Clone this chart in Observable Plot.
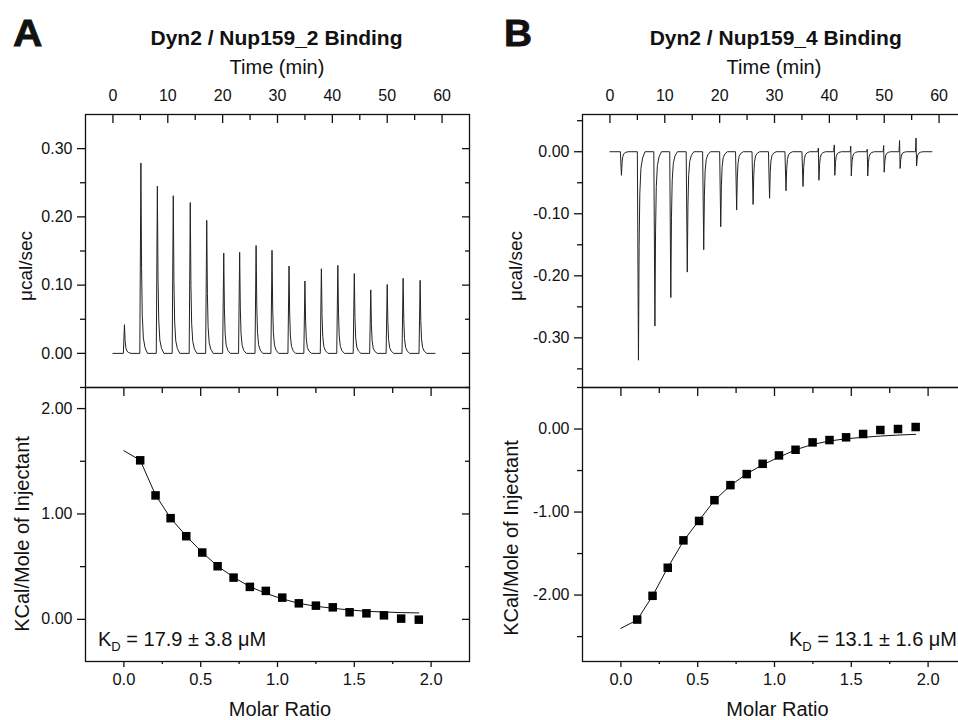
<!DOCTYPE html>
<html><head><meta charset="utf-8">
<script src="https://cdn.jsdelivr.net/npm/d3@7"></script>
<script src="https://cdn.jsdelivr.net/npm/@observablehq/plot@0.6"></script>
<style>
html,body{margin:0;padding:0;background:#fff;}
#fig{position:relative;width:958px;height:720px;overflow:hidden;background:#fff;font-family:"Liberation Sans",Arial,sans-serif;color:#111;}
#fig svg{position:absolute;overflow:visible;}
.t{position:absolute;white-space:nowrap;line-height:1;}
.letter{transform-origin:0 0;-webkit-text-stroke:0.8px #111;}
</style></head><body><div id="fig"></div>
<script>
// ---------- data ----------
const timeTicks = [0, 10, 20, 30, 40, 50, 60];
const timeMinor = [5, 15, 25, 35, 45, 55];
const molarTicks = [0, 0.5, 1, 1.5, 2];
const molarMinor = [0.25, 0.75, 1.25, 1.75];

const traceSpan = [0, 58.7];           // baseline start / end (min)
// peak shape: [time offset (min), fraction of peak]
const peakProfile = [[-0.2, 0], [0, 1], [0.12, 0.45], [0.25, 0.2], [0.45, 0.08], [0.75, 0.03], [1.2, 0]];

const injTimesA = [2.1, 5.1, 8.1, 11.0, 14.1, 17.1, 20.2, 23.1, 26.1, 29.0, 32.1, 35.0, 38.0, 41.0, 44.0, 47.0, 50.0, 52.9, 56.0];
const peakA = [0.042, 0.279, 0.245, 0.231, 0.221, 0.195, 0.147, 0.148, 0.158, 0.151, 0.128, 0.106, 0.124, 0.129, 0.117, 0.093, 0.101, 0.110, 0.107];

const injTimesB = [2.1, 5.2, 8.2, 11.1, 14.1, 17.1, 20.2, 23.1, 26.1, 29.1, 32.1, 35.2, 38.1, 41.0, 44.0, 47.0, 50.0, 52.9, 55.9];
const peakB = [-0.038, -0.336, -0.281, -0.235, -0.194, -0.158, -0.121, -0.094, -0.085, -0.075, -0.063, -0.056, -0.046, -0.038, -0.039, -0.039, -0.033, -0.027, -0.023];
const preSpikeB = [0, 0, 0, 0, 0, 0, 0, 0, 0, 0, 0, 0, 0.006, 0.011, 0.009, 0.004, 0.010, 0.018, 0.022];

const molarA = [0.106, 0.206, 0.304, 0.406, 0.510, 0.610, 0.714, 0.820, 0.924, 1.031, 1.139, 1.250, 1.360, 1.469, 1.579, 1.693, 1.805, 1.920];
const heatA = [1.509, 1.176, 0.960, 0.789, 0.634, 0.504, 0.396, 0.308, 0.270, 0.206, 0.152, 0.130, 0.114, 0.067, 0.057, 0.038, 0.007, -0.003];
const fitMolarA = [0.0, 0.106, 0.206, 0.304, 0.406, 0.510, 0.610, 0.714, 0.820, 0.924, 1.031, 1.139, 1.250, 1.360, 1.469, 1.579, 1.693, 1.805, 1.920];
const fitHeatA = [1.60, 1.51, 1.18, 0.96, 0.79, 0.635, 0.505, 0.40, 0.31, 0.247, 0.194, 0.152, 0.124, 0.105, 0.089, 0.076, 0.070, 0.064, 0.061];

const molarB = [0.106, 0.206, 0.305, 0.407, 0.509, 0.609, 0.713, 0.819, 0.923, 1.029, 1.137, 1.248, 1.358, 1.466, 1.577, 1.689, 1.804, 1.919];
const heatB = [-2.295, -2.009, -1.671, -1.341, -1.107, -0.857, -0.676, -0.543, -0.419, -0.318, -0.250, -0.161, -0.133, -0.100, -0.060, -0.012, 0.000, 0.024];
const fitMolarB = [0.0, 0.106, 0.206, 0.305, 0.407, 0.509, 0.609, 0.713, 0.819, 0.923, 1.029, 1.137, 1.248, 1.358, 1.466, 1.577, 1.689, 1.804, 1.919];
const fitHeatB = [-2.40, -2.30, -2.01, -1.67, -1.35, -1.10, -0.86, -0.68, -0.54, -0.43, -0.34, -0.25, -0.185, -0.145, -0.117, -0.10, -0.085, -0.073, -0.064];

// ---------- helpers ----------
const fig = document.getElementById("fig");
const FONT = '"Liberation Sans", Arial, sans-serif';
const f2 = d => d.toFixed(2);
const f1 = d => d.toFixed(1);

function buildTrace(times, heights, pre) {
  const pts = [{t: traceSpan[0], v: 0}];
  times.forEach((t, i) => {
    if (pre && pre[i]) { pts.push({t: t - 0.3, v: 0}); pts.push({t: t - 0.1, v: pre[i]}); }
    for (const [dt, f] of peakProfile) pts.push({t: t + dt, v: f * heights[i]});
  });
  pts.push({t: traceSpan[1], v: 0});
  return pts.sort((a, b) => a.t - b.t);
}
const zip = (xs, ys) => xs.map((x, i) => ({x, y: ys[i]}));

function topPanel({yDomain, yMajor, yMinor, trace, left}) {
  const p = Plot.plot({
    width: 479, height: 318,
    marginLeft: 85, marginRight: 10, marginTop: 44, marginBottom: 1,
    x: {domain: [-5, 65]},
    y: {domain: yDomain},
    style: {fontFamily: FONT, fontSize: "16px", color: "#111", background: "none", overflow: "visible"},
    marks: [
      Plot.line(trace, {x: "t", y: "v", stroke: "#222", strokeWidth: 1}),
      Plot.frame({stroke: "#111", strokeWidth: 1.3}),
      Plot.axisX(timeTicks, {anchor: "top", tickSize: 0, tickPadding: 14, tickFormat: d => String(d), label: null}),
      Plot.axisX(timeTicks, {anchor: "top", tickSize: 8, dy: 8, fill: "none", strokeWidth: 1.3, label: null}),
      Plot.axisX(timeMinor, {anchor: "top", tickSize: 5, dy: 5, fill: "none", strokeWidth: 1.3, label: null}),
      Plot.axisY(yMajor, {anchor: "left", tickSize: 8, tickPadding: 5, tickFormat: f2, strokeWidth: 1.3, label: null}),
      Plot.axisY(yMinor, {anchor: "left", tickSize: 5, fill: "none", strokeWidth: 1.3, label: null}),
      Plot.axisY(yMajor, {anchor: "right", tickSize: 8, dx: -8, fill: "none", strokeWidth: 1.3, label: null}),
      Plot.axisY(yMinor, {anchor: "right", tickSize: 5, dx: -5, fill: "none", strokeWidth: 1.3, label: null})
    ]
  });
  p.style.left = left + "px"; p.style.top = "70px";
  fig.appendChild(p);
}

function bottomPanel({yDomain, yMajor, yMinor, pts, fit, left}) {
  const p = Plot.plot({
    width: 479, height: 334,
    marginLeft: 85, marginRight: 10, marginTop: 1, marginBottom: 59,
    x: {domain: [-0.25, 2.25]},
    y: {domain: yDomain},
    style: {fontFamily: FONT, fontSize: "16px", color: "#111", background: "none", overflow: "visible"},
    marks: [
      Plot.line(fit, {x: "x", y: "y", stroke: "#111", strokeWidth: 1}),
      Plot.dot(pts, {x: "x", y: "y", symbol: "square", r: 4.8, fill: "#000", stroke: "none"}),
      Plot.frame({stroke: "#111", strokeWidth: 1.3}),
      Plot.axisX(molarTicks, {anchor: "bottom", tickSize: 6, tickPadding: 6, tickFormat: f1, strokeWidth: 1.3, label: null, fontSize: 16.5}),
      Plot.axisX(molarMinor, {anchor: "bottom", tickSize: 3, fill: "none", strokeWidth: 1.3, label: null}),
      Plot.axisX(molarTicks, {anchor: "top", tickSize: 8, dy: 8, fill: "none", strokeWidth: 1.3, label: null}),
      Plot.axisX(molarMinor, {anchor: "top", tickSize: 5, dy: 5, fill: "none", strokeWidth: 1.3, label: null}),
      Plot.axisY(yMajor, {anchor: "left", tickSize: 8, tickPadding: 5, tickFormat: f2, strokeWidth: 1.3, label: null}),
      Plot.axisY(yMinor, {anchor: "left", tickSize: 5, fill: "none", strokeWidth: 1.3, label: null}),
      Plot.axisY(yMajor, {anchor: "right", tickSize: 8, dx: -8, fill: "none", strokeWidth: 1.3, label: null}),
      Plot.axisY(yMinor, {anchor: "right", tickSize: 5, dx: -5, fill: "none", strokeWidth: 1.3, label: null})
    ]
  });
  p.style.left = left + "px"; p.style.top = "386px";
  fig.appendChild(p);
}

topPanel({yDomain: [-0.05, 0.35], yMajor: [0, 0.1, 0.2, 0.3], yMinor: [-0.05, 0.05, 0.15, 0.25],
  trace: buildTrace(injTimesA, peakA, null), left: 0});
topPanel({yDomain: [-0.38, 0.06], yMajor: [0, -0.1, -0.2, -0.3], yMinor: [0.05, -0.05, -0.15, -0.25, -0.35],
  trace: buildTrace(injTimesB, peakB, preSpikeB), left: 497});
bottomPanel({yDomain: [-0.4, 2.2], yMajor: [0, 1, 2], yMinor: [0.5, 1.5],
  pts: zip(molarA, heatA), fit: zip(fitMolarA, fitHeatA), left: 0});
bottomPanel({yDomain: [-2.8, 0.5], yMajor: [0, -1, -2], yMinor: [0.5, -0.5, -1.5, -2.5],
  pts: zip(molarB, heatB), fit: zip(fitMolarB, fitHeatB), left: 497});

// ---------- text ----------
function txt(html, {cx, left, right, baseline, size, bold, rot, cy, cls, scaleX}) {
  const d = document.createElement("div");
  d.className = "t" + (cls ? " " + cls : "");
  d.innerHTML = html;
  d.style.fontSize = size + "px";
  if (bold) d.style.fontWeight = "bold";
  if (rot) {
    d.style.left = cx + "px"; d.style.top = cy + "px";
    d.style.transform = "translate(-50%,-50%) rotate(-90deg)";
  } else {
    d.style.top = (baseline - 0.8465 * size) + "px";
    if (cx !== undefined) { d.style.left = cx + "px"; d.style.transform = "translateX(-50%)"; }
    else if (left !== undefined) d.style.left = left + "px";
    else d.style.right = right + "px";
    if (scaleX) d.style.transform = "scaleX(" + scaleX + ")";
  }
  fig.appendChild(d);
}
txt("A", {left: 13, baseline: 46, size: 37, bold: true, cls: "letter", scaleX: 1.1});
txt("B", {left: 504, baseline: 46, size: 37, bold: true, cls: "letter", scaleX: 1.05});
txt("Dyn2 / Nup159_2 Binding", {cx: 276.5, baseline: 45, size: 21, bold: true});
txt("Dyn2 / Nup159_4 Binding", {cx: 775.7, baseline: 45, size: 21, bold: true});
txt("Time (min)", {cx: 277, baseline: 74, size: 20});
txt("Time (min)", {cx: 774, baseline: 74, size: 20});
txt("μcal/sec", {rot: true, cx: 24.5, cy: 266, size: 19});
txt("μcal/sec", {rot: true, cx: 514.5, cy: 266, size: 19});
txt("KCal/Mole of Injectant", {rot: true, cx: 21.5, cy: 534, size: 20});
txt("KCal/Mole of Injectant", {rot: true, cx: 511, cy: 538, size: 20});
txt("Molar Ratio", {cx: 280, baseline: 716, size: 20});
txt("Molar Ratio", {cx: 777.5, baseline: 716, size: 20});
const sub = '<span style="font-size:13px;position:relative;top:5px">D</span>';
txt("K" + sub + " = 17.9 ± 3.8 μM", {left: 98, baseline: 646, size: 20});
txt("K" + sub + " = 13.1 ± 1.6 μM", {right: 1, baseline: 646, size: 20});
</script></body></html>
